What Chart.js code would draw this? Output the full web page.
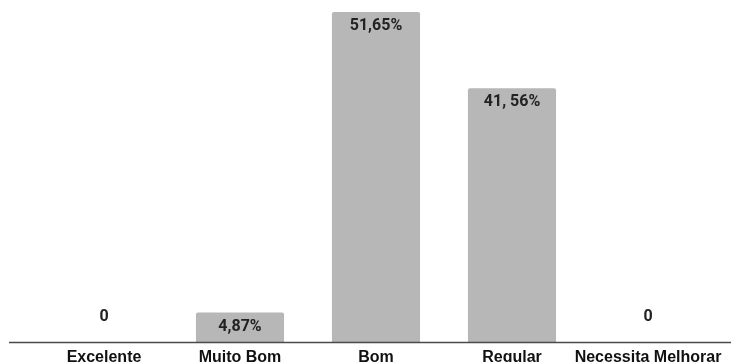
<!DOCTYPE html>
<html>
<head>
<meta charset="utf-8">
<script src="https://cdn.jsdelivr.net/npm/chart.js@4"></script>
<style>
  html, body { margin: 0; padding: 0; background: #fff; overflow: hidden; }
  .wrap { position: relative; width: 731px; height: 362px; }
</style>
</head>
<body>
<div class="wrap"><canvas id="notasChart"></canvas></div>
<script>
const categorias = ['Excelente', 'Muito Bom', 'Bom', 'Regular', 'Necessita Melhorar'];
// alturas das barras
const valores = [0, 4.6, 51.65, 39.7, 0];
// rótulos escritos sobre as barras
const rotulos = ['0', '4,87%', '51,65%', '41, 56%', '0'];

const ctx = document.getElementById('notasChart').getContext('2d');

const linhaBase = {
  id: 'linhaBase',
  afterDatasetsDraw(chart) {
    const {ctx, chartArea: {bottom}, width} = chart;
    ctx.save();
    ctx.strokeStyle = '#4a4a4a';
    ctx.lineWidth = 1.6;
    ctx.beginPath();
    ctx.moveTo(9, bottom + 0.5);
    ctx.lineTo(width, bottom + 0.5);
    ctx.stroke();
    ctx.restore();
  }
};

const rotulosBarras = {
  id: 'rotulosBarras',
  afterDatasetsDraw(chart) {
    const {ctx} = chart;
    const meta = chart.getDatasetMeta(0);
    ctx.save();
    ctx.fillStyle = '#222';
    ctx.font = 'bold 16px Roboto';
    ctx.textAlign = 'center';
    ctx.textBaseline = 'middle';
    meta.data.forEach((bar, i) => {
      const y = valores[i] === 0 ? bar.base - 25 : bar.y + 14;
      ctx.fillText(rotulos[i], bar.x, y);
    });
    ctx.restore();
  }
};

new Chart(ctx, {
  type: 'bar',
  data: {
    labels: categorias,
    datasets: [{
      data: valores,
      backgroundColor: '#b7b7b7',
      borderRadius: {topLeft: 2, topRight: 2},
      borderSkipped: 'bottom',
      categoryPercentage: 0.8,
      barPercentage: 0.81
    }]
  },
  options: {
    responsive: true,
    maintainAspectRatio: false,
    animation: false,
    layout: {
      padding: {left: 36, right: 15, top: 12, bottom: 0}
    },
    plugins: {
      legend: {display: false},
      tooltip: {enabled: false}
    },
    scales: {
      y: {
        display: false,
        min: 0,
        max: 51.65
      },
      x: {
        // eixo com altura fixa: os nomes ficam parcialmente cortados embaixo
        afterFit(scale) {
          scale.height = 20;
        },
        border: {display: false},
        grid: {display: false, drawTicks: false},
        ticks: {
          padding: 6,
          color: '#111',
          maxRotation: 0,
          autoSkip: false,
          font: {
            family: 'Liberation Sans',
            weight: 'bold',
            size: 16
          }
        }
      }
    }
  },
  plugins: [linhaBase, rotulosBarras]
});
</script>
</body>
</html>
